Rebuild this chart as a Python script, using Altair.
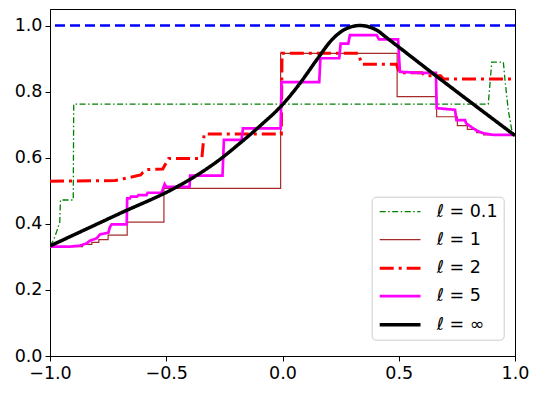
import altair as alt
import pandas as pd

labels = ["ℓ = 0.1", "ℓ = 1", "ℓ = 2", "ℓ = 5", "ℓ = ∞"]
colors = ["#008000", "#a52a2a", "#ff0000", "#ff00ff", "#000000"]
dashes = [[6, 2.5, 1.5, 2.5], [1, 0], [14, 5, 3, 5], [1, 0], [1, 0]]
widths = [1.3, 1.2, 3.0, 2.7, 3.5]

# l = 0.1
x_01 = [-1.0, -0.985, -0.972, -0.958, -0.955, -0.900, -0.898, 0.885, 0.900,
        0.950, 0.957, 0.971, 0.986, 1.0]
y_01 = [0.333, 0.35, 0.375, 0.405, 0.472, 0.472, 0.762, 0.762, 0.889,
        0.889, 0.835, 0.744, 0.684, 0.667]

# l = 1
x_1 = [-1.0, -0.86, -0.86, -0.82, -0.82, -0.79, -0.79, -0.75, -0.75, -0.668,
       -0.668, -0.510, -0.510, -0.008, -0.008, 0.493, 0.493, 0.663, 0.663,
       0.752, 0.752, 0.795, 0.795, 0.835, 0.835, 0.865, 0.865, 1.0]
y_1 = [0.331, 0.331, 0.338, 0.338, 0.344, 0.344, 0.352, 0.352, 0.366, 0.366,
       0.405, 0.405, 0.507, 0.507, 0.916, 0.916, 0.785, 0.785, 0.724,
       0.724, 0.697, 0.697, 0.686, 0.686, 0.676, 0.676, 0.669, 0.669]

# l = 2
x_2 = [-1.0, -0.72, -0.68, -0.64, -0.61, -0.60, -0.585, -0.515, -0.49, -0.347,
       -0.337, -0.005, -0.002, 0.326, 0.341, 0.490, 0.503, 0.600, 0.612,
       0.680, 0.692, 1.0]
y_2 = [0.529, 0.531, 0.537, 0.543, 0.548, 0.556, 0.564, 0.566, 0.598, 0.598,
       0.672, 0.672, 0.916, 0.916, 0.883, 0.883, 0.857, 0.857, 0.848,
       0.848, 0.838, 0.838]

# l = 5
x_5 = [-1.0, -0.914, -0.871, -0.842, -0.828, -0.799, -0.785, -0.749, -0.742,
       -0.735, -0.670, -0.668, -0.656, -0.652, -0.626, -0.620, -0.585, -0.580,
       -0.520, -0.507, -0.500, -0.400, -0.397, -0.258, -0.252, -0.176, -0.170,
       -0.008, -0.004, 0.158, 0.163, 0.244, 0.250, 0.283, 0.290, 0.405, 0.415,
       0.497, 0.505, 0.580, 0.660, 0.663, 0.742, 0.748, 0.785, 0.790, 0.814,
       0.835, 0.864, 0.907, 1.0]
y_5 = [0.331, 0.331, 0.334, 0.341, 0.349, 0.356, 0.368, 0.373, 0.391,
       0.398, 0.398, 0.477, 0.477, 0.482, 0.482, 0.487, 0.487, 0.494,
       0.494, 0.520, 0.512, 0.512, 0.546, 0.546, 0.654, 0.654, 0.689,
       0.689, 0.829, 0.829, 0.901, 0.901, 0.945, 0.945, 0.971, 0.971, 0.958,
       0.958, 0.860, 0.857, 0.857, 0.750, 0.745, 0.714, 0.714, 0.704, 0.692,
       0.682, 0.674, 0.669, 0.669]

# l = infinity (smooth curve)
x_inf = [-1.0, -0.713, -0.441, -0.355, -0.269, -0.183, -0.097, 0.003, 0.075,
         0.147, 0.218, 0.276, 0.333, 0.405, 0.448, 0.656, 1.0]
y_inf = [0.333, 0.427, 0.517, 0.553, 0.595, 0.644, 0.696, 0.763, 0.825,
         0.896, 0.961, 0.991, 1.0, 0.986, 0.963, 0.850, 0.667]

ref_level = [1.0]
x_ticks = [-1.0, -0.5, 0.0, 0.5, 1.0]
y_ticks = [0.0, 0.2, 0.4, 0.6, 0.8, 1.0]

series_x = [x_01, x_1, x_2, x_5, x_inf]
series_y = [y_01, y_1, y_2, y_5, y_inf]
rows = []
for lab, xs, ys in zip(labels, series_x, series_y):
    for i, (xv, yv) in enumerate(zip(xs, ys)):
        rows.append({"x": xv, "y": yv, "series": lab, "idx": i})
df = pd.DataFrame(rows)
df_steps = df[df["series"] != labels[-1]]
df_smooth = df[df["series"] == labels[-1]]

FONT = "DejaVu Sans"
FS = 17.5

xscale = alt.Scale(domain=[-1, 1], nice=False, zero=False)
yscale = alt.Scale(domain=[0, 1.05], nice=False, zero=False)

xaxis = alt.Axis(values=x_ticks, format=".1f", title=None, grid=False,
                 labelFlush=False, labelOverlap=False, labelFontSize=FS,
                 labelFont=FONT, labelColor="black", tickColor="black",
                 domainColor="black", tickSize=5, labelPadding=3)
yaxis = alt.Axis(values=y_ticks, format=".1f", title=None, grid=False,
                 labelOverlap=False, labelFontSize=FS, labelFont=FONT,
                 labelColor="black", tickColor="black", domainColor="black",
                 tickSize=5, labelPadding=3)

legend = alt.Legend(
    orient="none", legendX=321.7, legendY=187.7, title=None,
    symbolType="M -1 0 L 4.1 0", symbolSize=256, labelFontSize=FS,
    labelFont=FONT, labelColor="black", padding=6, rowPadding=10,
    fillColor="white", strokeColor="#cccccc", cornerRadius=4,
    labelOffset=39, labelLimit=300,
)

enc = dict(
    x=alt.X("x:Q", scale=xscale, axis=xaxis),
    y=alt.Y("y:Q", scale=yscale, axis=yaxis),
    color=alt.Color("series:N", scale=alt.Scale(domain=labels, range=colors),
                    legend=legend),
    strokeDash=alt.StrokeDash("series:N",
                              scale=alt.Scale(domain=labels, range=dashes),
                              legend=legend),
    strokeWidth=alt.StrokeWidth("series:N",
                                scale=alt.Scale(type="ordinal", domain=labels,
                                                range=widths),
                                legend=legend),
    order=alt.Order("idx:Q"),
)

ref = alt.Chart(pd.DataFrame({"y": ref_level})).mark_rule(
    color="#0000ff", strokeDash=[10, 5], strokeWidth=2.7
).encode(y=alt.Y("y:Q", scale=yscale, axis=yaxis))

steps = alt.Chart(df_steps).mark_line(clip=True).encode(**enc)
smooth = alt.Chart(df_smooth).mark_line(clip=True, interpolate="monotone").encode(**enc)

chart = alt.layer(ref, steps, smooth).properties(
    width=465, height=347,
    autosize=alt.AutoSizeParams(type="none"),
    padding={"left": 42, "top": 1, "right": 17, "bottom": 30},
).configure(font=FONT).configure_view(stroke="black", strokeWidth=1)

chart.save("out.html", embed_options={"renderer": "svg", "actions": False})
